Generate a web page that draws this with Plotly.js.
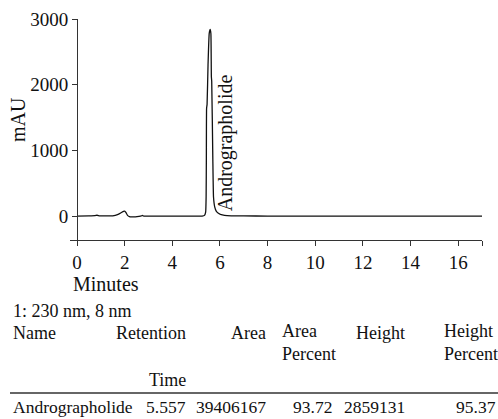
<!DOCTYPE html>
<html>
<head>
<meta charset="utf-8">
<script src="https://cdn.plot.ly/plotly-3.0.1.min.js"></script>
</head>
<body style="margin:0">
<div id="chart"></div>
<script>
// ---- Chromatogram data (minutes, mAU) ----
const timeMin = [0, 0.5, 0.75, 0.84, 0.95, 1.2, 1.5, 1.7, 1.85, 1.95, 2.0, 2.05, 2.12, 2.2, 2.3, 2.45, 2.6, 2.7, 2.75, 2.8, 3.0, 4.0, 5.0, 5.25, 5.35, 5.4, 5.42, 5.43, 5.44, 5.46, 5.5, 5.55, 5.59, 5.62, 5.64, 5.655, 5.7, 5.73, 5.78, 5.85, 5.92, 6.0, 6.1, 6.3, 6.6, 7.0, 8.0, 10.0, 12.0, 14.0, 16.0, 17.0];
const signal  = [0, 2, 5, 12, 3, 1, 3, 20, 50, 72, 76, 55, 10, -10, -14, -12, -5, 2, 8, 0, -2, -2, -2, 0, 10, 60, 300, 900, 1640, 1700, 2300, 2780, 2840, 2780, 2120, 2050, 900, 290, 140, 70, 45, 30, 18, 6, 3, 1, 0, 0, 0, 0, 0, 0];

const peakName = 'Andrographolide';
const xTicks = [0, 2, 4, 6, 8, 10, 12, 14, 16, 17];
const xTickText = ['0', '2', '4', '6', '8', '10', '12', '14', '16', ''];
const yTicks = [0, 1000, 2000, 3000];
const xLabel = 'Minutes';
const yLabel = 'mAU';

// ---- Peak table ----
const detector = '1: 230 nm, 8 nm';
const headerTop = ['Name', 'Retention', 'Area', 'Area', 'Height', 'Height'];
const headerSub = ['', '', '', 'Percent', '', 'Percent'];
const headerLow = ['', 'Time', '', '', '', ''];
const peakRow = ['Andrographolide', '5.557', '39406167', '93.72', '2859131', '95.37'];

// ---- layout geometry (pixels) ----
const W = 498, H = 419;
const M = {l: 70, r: 16, t: 19, b: 179};
const PW = W - M.l - M.r, PH = H - M.t - M.b;
const px = v => (v - M.l) / PW;
const py = v => (H - M.b - v) / PH;

function fnt(size) { return {family: 'Liberation Serif', size: size, color: '#111'}; }

const headerX = [12, 187, 267, 281, 406, 443];
const headerAnchor = ['left', 'right', 'right', 'left', 'right', 'left'];
const valueX = [12, 187, 267, 333, 406, 497];
const valueAnchor = ['left', 'right', 'right', 'right', 'right', 'right'];

const ann = [];
function addText(text, x, y, anchor, size) {
  if (!text) return;
  ann.push({text: text, xref: 'paper', yref: 'paper', x: px(x), y: py(y), align: anchor,
    xanchor: anchor, yanchor: 'middle', showarrow: false, borderpad: 0, font: fnt(size || 18)});
}
addText(detector, 12, 311, 'left');
headerTop.forEach((t, i) => {
  if (headerSub[i]) addText(t + '<br>' + headerSub[i], headerX[i], 342, headerAnchor[i]);
  else addText(t, headerX[i], 333, headerAnchor[i]);
});
headerLow.forEach((t, i) => addText(t, valueX[i], 380, valueAnchor[i]));
peakRow.forEach((t, i) => addText(t, valueX[i], 407, valueAnchor[i], 17.5));
addText(xLabel, 72, 284, 'left', 20);
ann.push({text: yLabel, xref: 'paper', yref: 'paper', x: px(18), y: py(120), textangle: -90,
  xanchor: 'center', yanchor: 'middle', showarrow: false, font: fnt(20)});
ann.push({text: peakName, xref: 'x', yref: 'y', x: 6.22, y: 1110, textangle: -90,
  xanchor: 'center', yanchor: 'middle', showarrow: false, font: fnt(20)});

const trace = {x: timeMin, y: signal, type: 'scatter', mode: 'lines',
  line: {color: '#111', width: 1.3, shape: 'spline', smoothing: 0.4}, hoverinfo: 'skip'};

const layout = {
  width: W, height: H, margin: M,
  paper_bgcolor: '#fff', plot_bgcolor: '#fff', showlegend: false,
  xaxis: {range: [-0.294, 17], tickmode: 'array', tickvals: xTicks, ticktext: xTickText,
    ticks: 'outside', ticklen: 5, tickcolor: '#333', showline: true, linecolor: '#333', linewidth: 1,
    showgrid: false, zeroline: false, tickfont: fnt(19)},
  yaxis: {range: [-365, 3000], tickmode: 'array', tickvals: yTicks, anchor: 'free', position: px(77),
    ticks: 'outside', ticklen: 5, tickcolor: '#333', showline: true, linecolor: '#333', linewidth: 1,
    showgrid: false, zeroline: false, tickfont: fnt(19)},
  annotations: ann,
  shapes: [{type: 'line', xref: 'paper', yref: 'paper', x0: px(10), x1: px(498), y0: py(393), y1: py(393),
    line: {color: '#666', width: 2}}]
};

Plotly.newPlot('chart', [trace], layout, {staticPlot: true, displayModeBar: false});
</script>
</body>
</html>
